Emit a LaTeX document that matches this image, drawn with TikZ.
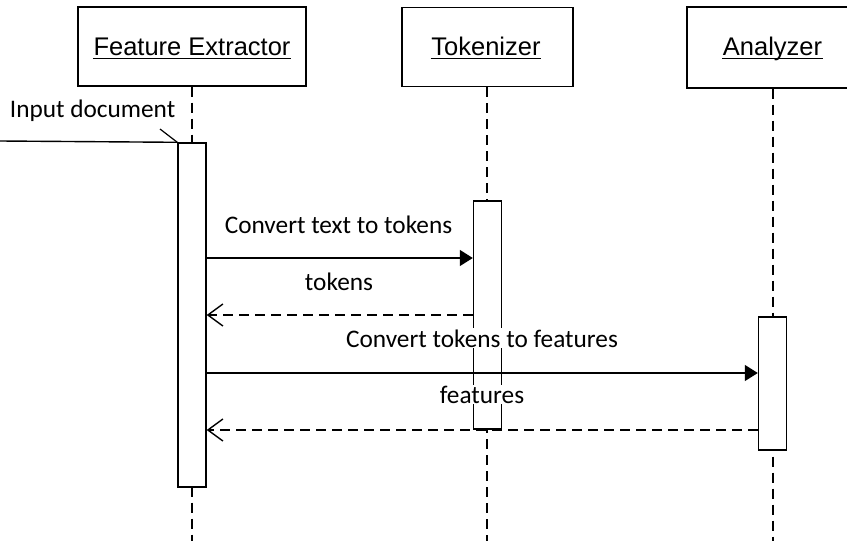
\documentclass[tikz,border=0pt]{standalone}
\usepackage{fontspec}
\setmainfont{Carlito}
\newfontfamily\hdrfont{Liberation Sans}
\usetikzlibrary{arrows.meta,calc}
\begin{document}
\begin{tikzpicture}[x=1pt,y=-1pt, line width=1.4pt,
  hdr/.style={draw, minimum width=#1, minimum height=79pt, inner sep=0pt},
  actbox/.style={draw, fill=white, minimum width=28pt, inner sep=0pt},
  life/.style={dash pattern=on 10pt off 6pt},
  msg/.style={-{Triangle[length=13pt,width=16pt]}},
  ret/.style={dash pattern=on 10pt off 6pt, -{Straight Barb[length=15pt,width=22pt]}},
  lbl/.style={font=\fontsize{25.3}{30}\selectfont, fill=white, inner sep=1pt, anchor=base},
  htxt/.style={font=\hdrfont\fontsize{25.5}{30}\selectfont, inner sep=0pt, anchor=base},
  uline/.style={line width=1.2pt}]
\useasboundingbox (0,0) rectangle (847,541);
% header boxes
\node[hdr=228pt] (fe) at (192,46.5) {};
\node[hdr=171pt] (tk) at (487.5,47) {};
\node[hdr=200pt, minimum height=81pt] (an) at (787,47.5) {};
\node[htxt] (fet) at (192,55) {Feature Extractor};
\node[htxt] (tkt) at (486,55) {Tokenizer};
\node[htxt] (ant) at (772.5,55) {Analyzer};
\draw[uline] ($(fet.base west)+(0,3.5)$) -- ($(fet.base east)+(0,3.5)$);
\draw[uline] ($(tkt.base west)+(0,3.5)$) -- ($(tkt.base east)+(0,3.5)$);
\draw[uline] ($(ant.base west)+(0,3.5)$) -- ($(ant.base east)+(0,3.5)$);
% lifelines
\coordinate (feend) at (192,541);
\coordinate (tkend) at (487,541);
\coordinate (anend) at (773,541);
\draw[life] (fe.south) -- (feend);
\draw[life] (tk.south -| tkend) -- (tkend);
\draw[life] (an.south -| anend) -- (anend);
% activations
\node[actbox, minimum height=344pt] (fea) at (192,315) {};
\node[actbox, minimum height=228pt] (tka) at (487.5,315) {};
\node[actbox, minimum height=133pt] (ana) at (772.5,383.5) {};
% input
\coordinate (src) at (0,141);
\coordinate (tick) at (160,129);
\draw (src) -- (fea.north west);
\draw[line width=1.2pt] (tick) -- (fea.north west);
\node[lbl, fill=none, inner sep=0pt, anchor=base east] (inp) at (176,117) {Input document};
% message levels
\coordinate (m1) at (0,258);
\coordinate (m2) at (0,315);
\coordinate (m3) at (0,373);
\coordinate (m4) at (0,430);
\draw[msg] (fea.east |- m1) -- (tka.west |- m1);
\draw[ret] (tka.west |- m2) -- (fea.east |- m2);
\draw[msg] (fea.east |- m3) -- (ana.west |- m3);
\draw[ret] (ana.west |- m4) -- (fea.east |- m4);
% labels
\node[lbl] (l1) at (338.5,233) {Convert text to tokens};
\node[lbl] (l2) at (339,290) {tokens};
\node[lbl] (l3) at (482,347) {Convert tokens to features};
\node[lbl] (l4) at (482,403) {features};
\end{tikzpicture}
\end{document}
